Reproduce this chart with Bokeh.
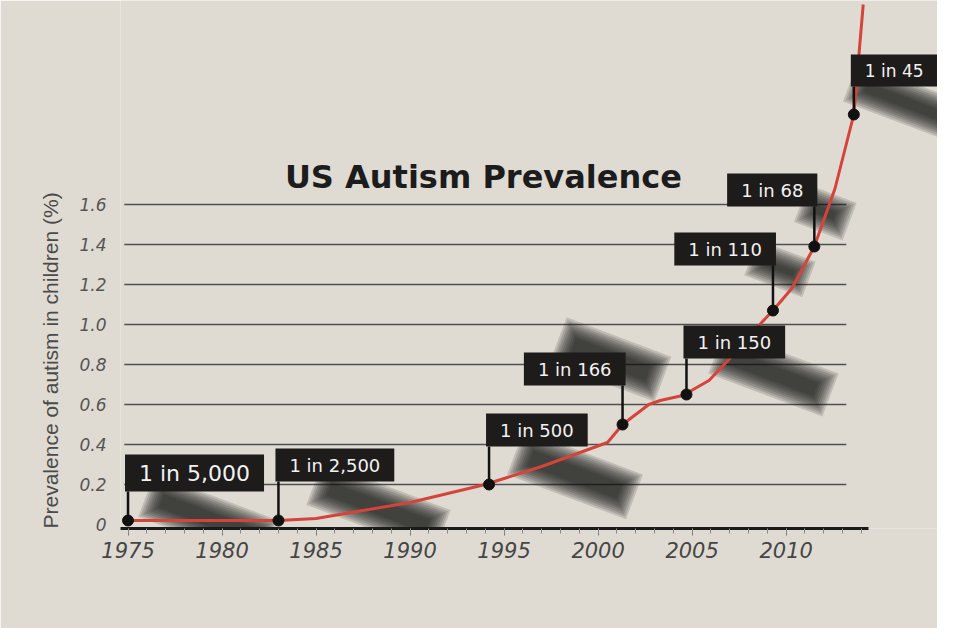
import math
from bokeh.plotting import figure
from bokeh.models import FixedTicker, CustomJSTickFormatter, Label, Title, ColumnDataSource
from bokeh.embed import file_html
from bokeh.resources import INLINE

# ---------------- data ----------------
CURVE_YEARS = [1975, 1980, 1983, 1985, 1990, 1994, 1997, 2000.5, 2001.3, 2002.7,
               2003.3, 2004.5, 2005.9, 2007, 2008.6, 2009.3, 2010.3, 2011.5,
               2012.6, 2013.6, 2014.1]
CURVE_VALUES = [0.02, 0.02, 0.02, 0.03, 0.11, 0.20, 0.29, 0.41, 0.50, 0.60,
                0.62, 0.645, 0.72, 0.83, 1.00, 1.07, 1.18, 1.39,
                1.68, 2.05, 2.60]

FLAG_YEARS = [1975, 1983, 1994.2, 2001.3, 2004.7, 2009.3, 2011.5, 2013.6]
FLAG_VALUES = [0.02, 0.02, 0.20, 0.50, 0.65, 1.07, 1.39, 2.05]
FLAG_LABELS = ["1 in 5,000", "1 in 2,500", "1 in 500", "1 in 166",
               "1 in 150", "1 in 110", "1 in 68", "1 in 45"]

X_TICKS = [1975, 1980, 1985, 1990, 1995, 2000, 2005, 2010]
Y_TICKS = [0, 0.2, 0.4, 0.6, 0.8, 1.0, 1.2, 1.4, 1.6]

TITLE = "US Autism Prevalence"
Y_LABEL = "Prevalence of autism in children (%)"

# ---------------- styles ----------------
POLE_PX = [29, 39, 38, 39, 36, 45, 40, 28]
POLE_SIDE = ["left", "left", "left", "right", "left", "right", "right", "left"]
FLAG_FONT = ["22px", "18px", "18px", "18px", "18px", "18px", "18px", "17px"]
# shadow: (dx px right, dy px up, length px, thickness px)
SHADOW = [(80, 2, 110, 24), (100, 13, 115, 24), (86, 10, 105, 26), (-12, 65, 90, 26),
          (87, 21, 100, 24), (7, 42, 40, 16), (11, 34, 30, 18), (49, 13, 90, 20)]

PAPER = "#dfdbd2"
W, H = 937, 628
LEFT, BOTTOM = 120, 100
X0, X1 = 1974.6, 2018.05
Y0, Y1 = -0.02, 2.62
PXX = (W - LEFT) / (X1 - X0)
PXY = (H - BOTTOM) / (Y1 - Y0)
GRID_END = 2013.2

p = figure(width=W, height=H, x_range=(X0, X1), y_range=(Y0, Y1),
           output_backend="svg", toolbar_location=None,
           min_border_left=LEFT, min_border_right=0, min_border_top=0,
           min_border_bottom=BOTTOM)
p.background_fill_color = PAPER
p.border_fill_color = PAPER
p.outline_line_color = None
p.xgrid.visible = False
p.ygrid.visible = False

# x axis
xa = p.xaxis[0]
xa.ticker = FixedTicker(ticks=X_TICKS, minor_ticks=list(range(1975, 2015)))
xa.bounds = (X0, 2014.4)
xa.axis_line_color = "#1a1a1a"
xa.axis_line_width = 3
xa.major_tick_in = 0
xa.major_tick_out = 7
xa.minor_tick_in = 0
xa.minor_tick_out = 5
xa.major_tick_line_color = "#777777"
xa.minor_tick_line_color = "#888888"
xa.major_label_text_font = "DejaVu Sans"
xa.major_label_text_font_style = "italic"
xa.major_label_text_font_size = "21px"
xa.major_label_text_color = "#454545"
xa.major_label_standoff = 6

# y axis
ya = p.yaxis[0]
ya.ticker = FixedTicker(ticks=Y_TICKS)
ya.formatter = CustomJSTickFormatter(code="return tick == 0 ? '0' : tick.toFixed(1);")
ya.axis_line_color = None
ya.major_tick_line_color = None
ya.minor_tick_line_color = None
ya.major_label_text_font = "DejaVu Sans"
ya.major_label_text_font_style = "italic"
ya.major_label_text_font_size = "17px"
ya.major_label_text_color = "#555555"
ya.major_label_standoff = 8

ytitle = Title(text=Y_LABEL, align="left", offset=0,
               text_font="Liberation Sans", text_font_size="21px",
               text_font_style="normal", text_color="#4a4a4a", standoff=30)
p.add_layout(ytitle, "left")

# gridlines (0.2 .. 1.6)
g_ticks = [t for t in Y_TICKS if t > 0]
p.segment(x0=[X0 + 0.2] * len(g_ticks), y0=g_ticks, x1=[GRID_END] * len(g_ticks), y1=g_ticks,
          line_color="#505050", line_width=1.3)

# shadows (soft, layered)
for (yr, v, sh) in zip(FLAG_YEARS, FLAG_VALUES, SHADOW):
    dx, dy, ln, th = sh
    cx = yr + dx / PXX
    cy = v + dy / PXY
    for grow in range(22, -14, -4):
        p.rect(x=[cx], y=[cy], width=[ln + grow], height=[max(th + grow, 4)],
               width_units="screen", height_units="screen", angle=-0.36,
               fill_color="#141414", fill_alpha=0.15, line_color=None)

# red curve
src = ColumnDataSource(dict(x=CURVE_YEARS, y=CURVE_VALUES))
p.line("x", "y", source=src, line_color="#d4443a", line_width=3)

# poles
p.ray(x=FLAG_YEARS, y=FLAG_VALUES, length=POLE_PX, angle=math.pi / 2,
      length_units="screen", line_color="#111111", line_width=2.5)
# points
p.scatter(x=FLAG_YEARS, y=FLAG_VALUES, size=11, fill_color="#111111", line_color="#111111")

# flag boxes
for yr, v, lab, pole, side, fs in zip(FLAG_YEARS, FLAG_VALUES, FLAG_LABELS, POLE_PX, POLE_SIDE, FLAG_FONT):
    lbl = Label(x=yr, y=v, text=lab,
                x_offset=(-3 if side == "left" else 3), y_offset=pole,
                anchor=("bottom_left" if side == "left" else "bottom_right"),
                padding=(14, 6),
                text_font="DejaVu Sans", text_font_size=fs, text_color="#f2f2f2",
                background_fill_color="#1e1b1b", background_fill_alpha=1.0)
    p.add_layout(lbl)

# chart title
p.add_layout(Label(x=1993.9, y=1.74, text=TITLE, text_align="center",
                   text_baseline="middle", text_font="DejaVu Sans",
                   text_font_style="bold", text_font_size="32px",
                   text_color="#1c1c1c"))

open("out.html", "w").write(file_html(p, INLINE))
